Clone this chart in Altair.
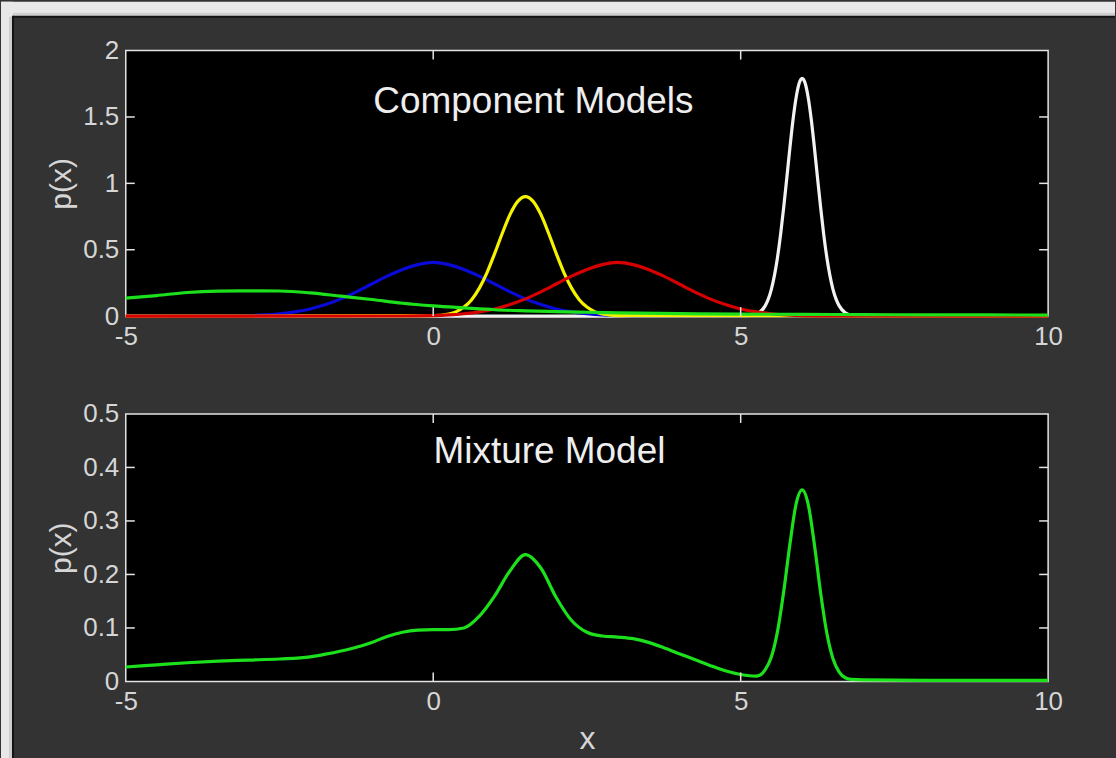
import altair as alt
import pandas as pd

# ---- component densities (x, p(x)) ----
green_x = [-5, -4.5, -4, -3.5, -3, -2.5, -2, -1.5, -1, -0.5, 0, 0.5, 1, 1.5, 2, 2.5, 3, 4, 5, 6, 7, 8, 9, 10]
green_y = [0.135, 0.155, 0.178, 0.188, 0.190, 0.189, 0.175, 0.150, 0.125, 0.097, 0.077, 0.062, 0.048, 0.040, 0.034,
           0.029, 0.025, 0.019, 0.015, 0.013, 0.011, 0.010, 0.009, 0.008]

blue_x = [-5, -3.5, -3, -2.75, -2.5, -2.25, -2, -1.75, -1.5, -1.25, -1, -0.75, -0.5, -0.25, 0,
          0.25, 0.5, 0.75, 1, 1.25, 1.5, 1.75, 2, 2.25, 2.5, 2.75, 3, 3.5, 10]
blue_y = [0, 0.001, 0.004, 0.009, 0.018, 0.032, 0.054, 0.087, 0.130, 0.183, 0.242, 0.301, 0.352, 0.388, 0.405,
          0.388, 0.352, 0.301, 0.242, 0.183, 0.130, 0.087, 0.054, 0.032, 0.018, 0.009, 0.004, 0.001, 0]

red_x = [-5, -0.5, 0, 0.25, 0.5, 0.75, 1, 1.25, 1.5, 1.75, 2, 2.25, 2.5, 2.75, 3,
         3.25, 3.5, 3.75, 4, 4.25, 4.5, 4.75, 5, 5.25, 5.5, 5.75, 6, 6.5, 10]
red_y = [0, 0.001, 0.004, 0.009, 0.018, 0.032, 0.054, 0.087, 0.130, 0.183, 0.242, 0.301, 0.352, 0.388, 0.405,
         0.388, 0.352, 0.301, 0.242, 0.183, 0.130, 0.087, 0.054, 0.032, 0.018, 0.009, 0.004, 0.001, 0]

yellow_x = [-5, 0, 0.25, 0.375, 0.5, 0.625, 0.75, 0.875, 1, 1.125, 1.25, 1.375, 1.5,
            1.625, 1.75, 1.875, 2, 2.125, 2.25, 2.375, 2.5, 2.625, 2.75, 3, 10]
yellow_y = [0, 0.003, 0.016, 0.034, 0.068, 0.124, 0.211, 0.328, 0.472, 0.626, 0.766, 0.864, 0.900,
            0.864, 0.766, 0.626, 0.472, 0.328, 0.211, 0.124, 0.068, 0.034, 0.016, 0.003, 0]

white_x = [-5, 5, 5.1, 5.2, 5.3, 5.4, 5.45, 5.5, 5.55, 5.6, 5.65, 5.7, 5.75, 5.8, 5.85, 5.9, 5.95, 6.0,
           6.05, 6.1, 6.15, 6.2, 6.25, 6.3, 6.35, 6.4, 6.45, 6.5, 6.55, 6.6, 6.7, 6.8, 6.9, 7, 10]
white_y = [0, 0, 0.001, 0.007, 0.025, 0.079, 0.130, 0.204, 0.309, 0.446, 0.618, 0.820, 1.040, 1.265, 1.473, 1.641, 1.752, 1.790,
           1.752, 1.641, 1.473, 1.265, 1.040, 0.820, 0.618, 0.446, 0.309, 0.204, 0.130, 0.079, 0.025, 0.007, 0.001, 0, 0]

# ---- mixture density ----
mix_x = [-5, -4.5, -4, -3.5, -3, -2.5, -2, -1.75, -1.5, -1.25, -1, -0.75, -0.5, -0.25,
         0, 0.25, 0.5, 0.75, 1, 1.25, 1.5, 1.75, 2, 2.25, 2.5, 2.75, 3, 3.25, 3.5, 3.75,
         4, 4.25, 4.5, 4.75, 5, 5.25, 5.3, 5.4, 5.5, 5.6, 5.7, 5.8, 5.9,
         6, 6.1, 6.2, 6.3, 6.4, 6.5, 6.6, 6.7, 6.8, 7, 8, 10]
mix_y = [0.027, 0.031, 0.035, 0.038, 0.040, 0.042, 0.046, 0.051, 0.057, 0.064, 0.073, 0.084, 0.092, 0.096,
         0.097, 0.097, 0.100, 0.122, 0.160, 0.207, 0.237, 0.212, 0.157, 0.114, 0.092, 0.085, 0.083, 0.080, 0.073, 0.063,
         0.052, 0.041, 0.030, 0.020, 0.013, 0.010, 0.011, 0.022, 0.046, 0.094, 0.168, 0.256, 0.331,
         0.358, 0.330, 0.255, 0.166, 0.091, 0.043, 0.018, 0.007, 0.004, 0.003, 0.002, 0.002]

# ---- axis ticks ----
x_ticks = [-5, 0, 5, 10]
x_inner_ticks = [0, 5]
top_y_ticks = [0, 0.5, 1, 1.5, 2]
top_y_inner = [0.5, 1, 1.5]
bot_y_ticks = [0, 0.1, 0.2, 0.3, 0.4, 0.5]
bot_y_inner = [0.1, 0.2, 0.3, 0.4]

series = [
    ("white", white_x, white_y, "#f2f2f2"),
    ("blue", blue_x, blue_y, "#0a0ad8"),
    ("yellow", yellow_x, yellow_y, "#f5f200"),
    ("red", red_x, red_y, "#d60000"),
    ("green", green_x, green_y, "#1de01d"),
]

comp = pd.concat(
    [pd.DataFrame({"x": xs, "y": ys, "series": name}) for name, xs, ys, _ in series],
    ignore_index=True,
)
mix = pd.DataFrame({"x": mix_x, "y": mix_y})

W = 924
H1 = 266
H2 = 268
TICK = 9
LW = 3.2
AX = "#e4e4e4"
LABEL = "#d6d6d6"
FONT = "Liberation Sans"
PANEL = "#333333"
PAGE = "#e8e8e8"
LABEL_SIZE = 26

xscale = alt.Scale(domain=[-5, 10], nice=False, zero=False)


def x_enc(with_title):
    opts = dict(values=x_ticks, labelExpr="datum.value + ''", labelFlush=False,
                labelOverlap=False, labelPadding=7, labelBaseline="top",
                labelFontSize=LABEL_SIZE)
    if with_title:
        axis = alt.Axis(title="x", titleX=W / 2, titleY=67, titleBaseline="alphabetic",
                        titleFontSize=32, **opts)
    else:
        axis = alt.Axis(title=None, **opts)
    return alt.X("x:Q", scale=xscale, axis=axis)


def y_enc(scale, values, h):
    axis = alt.Axis(values=values, labelExpr="datum.value + ''", labelOverlap=False,
                    labelPadding=7, labelFontSize=LABEL_SIZE, title="p(x)", titleX=-64,
                    titleY=h / 2, titleAngle=270, titleBaseline="middle", titleFontSize=30)
    return alt.Y("y:Q", scale=scale, axis=axis)


def tick_layers(xe, ye, y_inner, h):
    ydf = pd.DataFrame({"y": y_inner})
    xdf = pd.DataFrame({"x": x_inner_ticks})
    rule = dict(color=AX, strokeWidth=1.5)
    left = alt.Chart(ydf).mark_rule(**rule).encode(y=ye, x=alt.value(0), x2=alt.value(TICK))
    right = alt.Chart(ydf).mark_rule(**rule).encode(y=ye, x=alt.value(W - TICK), x2=alt.value(W))
    bottom = alt.Chart(xdf).mark_rule(**rule).encode(x=xe, y=alt.value(h - TICK), y2=alt.value(h))
    top = alt.Chart(xdf).mark_rule(**rule).encode(x=xe, y=alt.value(0), y2=alt.value(TICK))
    return [left, right, bottom, top]


def label_layer(x, y, text, xe, ye):
    df = pd.DataFrame({"x": [x], "y": [y], "t": [text]})
    return alt.Chart(df).mark_text(font=FONT, fontSize=37, color="#eeeeee",
                                   baseline="middle", align="center").encode(
        x=xe, y=ye, text="t:N")


# light page margin around the dark panel (top and left edges)
one = pd.DataFrame({"k": [0]})


def strip(color, x0, x1, y0, y1):
    return alt.Chart(one).mark_rect(color=color, clip=False).encode(
        x=alt.value(x0), x2=alt.value(x1), y=alt.value(y0), y2=alt.value(y1))


page_layers = [
    strip(PAGE, -125, 991, -49, -34),
    strip(PAGE, -125, -113, -49, 709),
    strip("#cfcfcf", -113, 991, -38, -35),
    strip("#cfcfcf", -117, -114, -34, 709),
    strip("#141414", -113, 991, -35, -33),
    strip("#141414", -114, -112, -35, 709),
]

# ---- top panel: component models ----
yscale_top = alt.Scale(domain=[0, 2], nice=False, zero=True)
xe_top = x_enc(False)
ye_top = y_enc(yscale_top, top_y_ticks, H1)
comp_lines = alt.Chart(comp).mark_line(strokeWidth=LW, interpolate="monotone", clip=False).encode(
    x=xe_top,
    y=ye_top,
    color=alt.Color("series:N",
                    scale=alt.Scale(domain=[s[0] for s in series], range=[s[3] for s in series]),
                    legend=None),
)
top_panel = alt.layer(
    *page_layers,
    comp_lines,
    *tick_layers(xe_top, ye_top, top_y_inner, H1),
    label_layer(1.63, 1.61, "Component Models", xe_top, ye_top),
).properties(width=W, height=H1)

# ---- bottom panel: mixture model ----
yscale_bot = alt.Scale(domain=[0, 0.5], nice=False, zero=True)
xe_bot = x_enc(True)
ye_bot = y_enc(yscale_bot, bot_y_ticks, H2)
mix_line = alt.Chart(mix).mark_line(strokeWidth=LW, interpolate="monotone", clip=False,
                                    color="#1de01d").encode(x=xe_bot, y=ye_bot)
bottom_panel = alt.layer(
    mix_line,
    *tick_layers(xe_bot, ye_bot, bot_y_inner, H2),
    label_layer(1.89, 0.429, "Mixture Model", xe_bot, ye_bot),
).properties(width=W, height=H2)

chart = alt.vconcat(top_panel, bottom_panel, spacing=98, bounds="flush").properties(
    padding=0, background=PANEL
).configure_view(
    fill="black", stroke=AX, strokeWidth=1.5
).configure_axis(
    domain=False, ticks=False, tickSize=0, grid=False,
    labelColor=LABEL, labelFont=FONT,
    titleColor=LABEL, titleFont=FONT, titleFontWeight="normal",
).configure_concat(spacing=98)

chart.save("out.html", embed_options={"renderer": "svg", "actions": False})
